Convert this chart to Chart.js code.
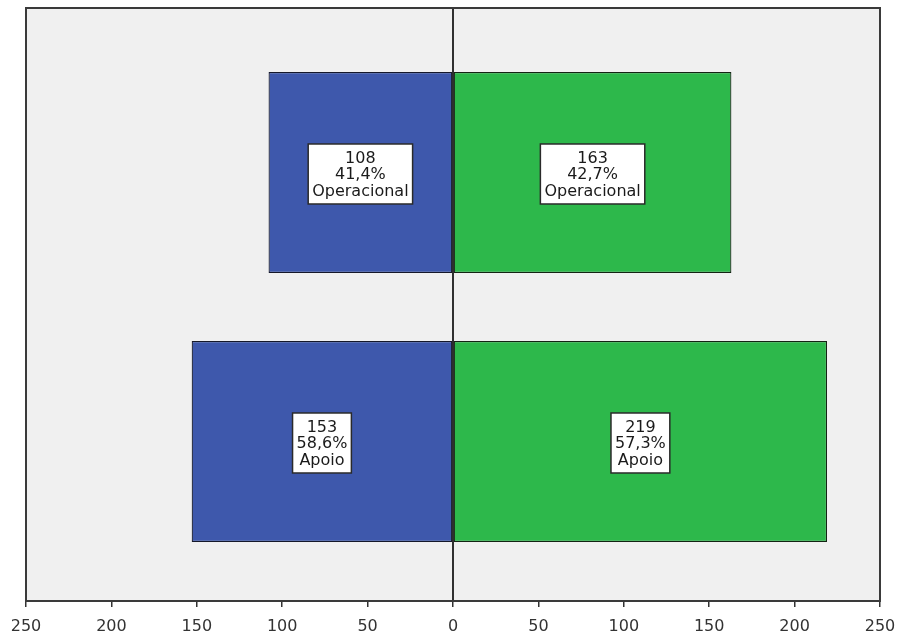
<!DOCTYPE html>
<html>
<head>
<meta charset="utf-8">
<script src="https://cdn.jsdelivr.net/npm/chart.js@4/dist/chart.umd.min.js"></script>
<style>
  html, body { margin: 0; padding: 0; background: #ffffff; }
  #wrap { width: 898px; height: 637px; }
</style>
</head>
<body>
<div id="wrap"><canvas id="c" width="898" height="637"></canvas></div>
<script>
// Categories, top to bottom
const categories = ['Operacional', 'Apoio'];

// Left side (blue) counts and shares
const leftCounts = [108, 153];
const leftPct = ['41,4%', '58,6%'];

// Right side (green) counts and shares
const rightCounts = [163, 219];
const rightPct = ['42,7%', '57,3%'];

// Axis ticks (absolute values shown on both sides of zero)
const tickValues = [-250, -200, -150, -100, -50, 0, 50, 100, 150, 200, 250];

const FONT = '"DejaVu Sans", "Liberation Sans", sans-serif';

const panelPlugin = {
  id: 'panel',
  beforeDatasetsDraw(chart) {
    const { ctx, chartArea: a } = chart;
    ctx.save();
    ctx.fillStyle = '#f0f0f0';
    ctx.fillRect(a.left, a.top, a.right - a.left, a.bottom - a.top);
    ctx.restore();
  },
  afterDatasetsDraw(chart) {
    const { ctx, chartArea: a, scales } = chart;
    const x0 = Math.round(scales.x.getPixelForValue(0));
    ctx.save();
    // zero line
    ctx.strokeStyle = '#000';
    ctx.lineWidth = 1.6;
    ctx.beginPath();
    ctx.moveTo(x0, a.top);
    ctx.lineTo(x0, a.bottom);
    ctx.stroke();
    // frame
    ctx.strokeStyle = '#3a3a3a';
    ctx.lineWidth = 2;
    ctx.strokeRect(a.left, a.top, a.right - a.left, a.bottom - a.top);

    // value boxes
    ctx.font = '16px ' + FONT;
    ctx.textAlign = 'center';
    ctx.textBaseline = 'middle';
    const lineH = 16.5;
    chart.data.datasets.forEach((ds, di) => {
      const meta = chart.getDatasetMeta(di);
      meta.data.forEach((bar, i) => {
        const lines = [String(Math.abs(ds.data[i].x)), ds.pct[i], categories[i]];
        const w = Math.max(...lines.map(t => ctx.measureText(t).width)) + 8;
        const h = 60;
        const cx = (bar.x + bar.base) / 2;
        const cy = bar.y + 1.5;
        ctx.fillStyle = '#ffffff';
        ctx.fillRect(cx - w / 2, cy - h / 2, w, h);
        ctx.strokeStyle = '#2a2a2a';
        ctx.lineWidth = 1.5;
        ctx.strokeRect(cx - w / 2, cy - h / 2, w, h);
        ctx.fillStyle = '#1a1a1a';
        lines.forEach((t, k) => {
          ctx.fillText(t, cx, cy + (k - 1) * lineH + 1);
        });
      });
    });
    ctx.restore();
  }
};

new Chart(document.getElementById('c'), {
  type: 'bar',
  data: {
    datasets: [
      {
        data: leftCounts.map((v, i) => ({ x: -v, y: i })),
        pct: leftPct,
        backgroundColor: '#3e58ac',
        borderColor: '#15182a',
        borderWidth: 1.2,
        borderSkipped: false,
        stack: 's'
      },
      {
        data: rightCounts.map((v, i) => ({ x: v, y: i })),
        pct: rightPct,
        backgroundColor: '#2db84b',
        borderColor: '#132313',
        borderWidth: 1.2,
        borderSkipped: false,
        stack: 's'
      }
    ]
  },
  options: {
    indexAxis: 'y',
    responsive: false,
    animation: false,
    devicePixelRatio: 1,
    layout: { padding: { top: 8, left: 26, right: 18, bottom: 0 } },
    plugins: { legend: { display: false }, tooltip: { enabled: false } },
    datasets: { bar: { barPercentage: 1, categoryPercentage: 0.747 } },
    scales: {
      x: {
        type: 'linear',
        min: tickValues[0],
        max: tickValues[tickValues.length - 1],
        afterBuildTicks(scale) { scale.ticks = tickValues.map(v => ({ value: v })); },
        afterFit(scale) { scale.height = 36; scale.paddingLeft = 0; scale.paddingRight = 0; },
        grid: { display: true, drawOnChartArea: false, drawTicks: true, tickLength: 6, color: '#333', lineWidth: 1.5 },
        border: { display: false },
        ticks: {
          padding: 10,
          color: '#333',
          font: { family: FONT, size: 16 },
          maxRotation: 0,
          autoSkip: false,
          callback: v => String(Math.abs(v))
        }
      },
      y: {
        type: 'linear',
        display: false,
        stacked: true,
        reverse: true,
        offset: false,
        grid: { offset: false },
        min: -0.6115,
        max: 1.593,
        afterBuildTicks(scale) { scale.ticks = categories.map((c, i) => ({ value: i })); }
      }
    }
  },
  plugins: [panelPlugin]
});
</script>
</body>
</html>
